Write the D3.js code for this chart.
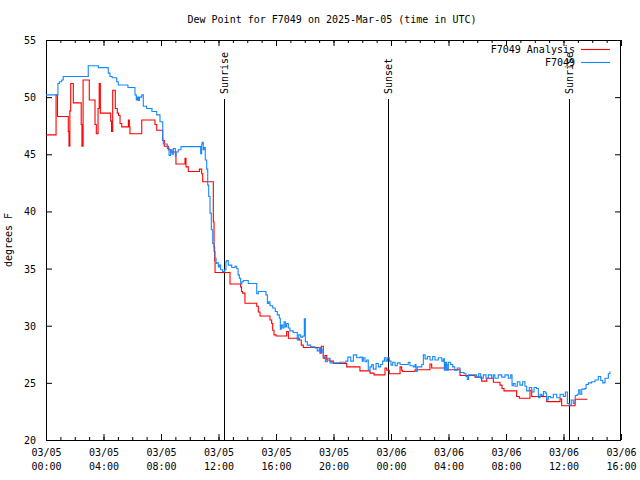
<!DOCTYPE html>
<html><head><meta charset="utf-8">
<script src="https://cdn.jsdelivr.net/npm/d3@7"></script>
<style>
body{margin:0;background:#fff}
svg{display:block}
text{font-family:"DejaVu Sans Mono",monospace;font-size:10px;fill:#000}
</style>
</head><body>
<svg id="chart" width="640" height="480"></svg>
<script>
const title = "Dew Point for F7049 on 2025-Mar-05 (time in UTC)";
const yAxisLabel = "degrees F";
const startTime = "2025-03-05T00:00:00Z";
const endTime = "2025-03-06T16:00:00Z";
const yTicks = [20, 25, 30, 35, 40, 45, 50, 55];
const seriesNames = ["F7049 Analysis", "F7049"];

// hours since 2025-03-05 00:00 UTC
const analysisHours = [0.00,0.70,0.80,1.55,1.60,1.66,1.72,1.90,2.45,2.50,2.58,3.01,3.41,3.50,3.62,3.70,3.78,4.50,4.56,4.64,4.82,4.96,5.05,5.15,5.27,5.73,5.80,5.84,6.66,7.58,7.70,8.12,8.23,8.51,8.67,9.04,9.67,9.74,9.90,10.67,10.83,10.90,11.64,11.69,11.73,11.76,12.80,13.54,13.60,13.68,13.84,14.66,14.77,14.89,15.58,15.70,15.77,15.86,16.00,16.74,16.86,17.62,17.76,17.90,19.06,19.15,19.29,19.41,19.53,19.76,19.99,20.92,21.84,22.54,22.82,23.58,23.70,23.88,24.63,24.74,24.81,25.67,26.71,26.83,27.76,27.90,28.80,29.84,30.31,30.66,31.12,31.58,31.72,31.86,32.74,32.93,33.67,33.79,34.83,35.76,35.87,36.80,37.66];
const analysisValues = [46.7,50.2,48.3,47.0,45.7,48.8,51.2,49.5,47.6,45.7,51.5,49.75,47.6,46.8,49.0,51.2,48.6,47.9,47.0,50.6,49.0,48.6,48.4,47.7,47.4,48.0,47.4,46.8,48.0,47.6,47.1,46.2,45.7,45.4,45.2,44.15,44.65,43.9,43.5,43.7,43.3,42.6,39.1,36.9,35.7,34.65,33.65,33.4,33.0,32.85,31.96,31.7,31.2,30.85,30.5,30.2,29.6,29.2,29.1,29.5,28.9,28.75,28.3,28.1,27.6,28.2,27.15,27.4,27.0,26.9,26.7,26.4,26.05,25.85,25.7,26.3,26.1,25.8,26.4,26.1,26.0,26.15,26.65,26.3,26.6,26.15,25.65,25.5,25.15,25.4,25.05,24.8,24.5,24.3,23.8,23.65,24.35,23.8,23.36,23.6,23.0,23.56,23.56];

const stationHours = [0.00,0.79,0.83,0.93,1.09,1.20,2.83,2.94,3.57,3.64,4.22,4.33,4.45,4.60,4.92,5.03,5.61,5.70,6.12,6.19,6.28,6.35,6.42,6.50,6.66,6.77,7.00,7.37,7.70,7.93,8.12,8.16,8.44,8.56,8.67,8.77,8.86,9.00,9.04,9.20,9.39,10.71,10.76,10.83,10.87,10.94,11.01,11.08,11.18,11.25,11.32,11.41,11.50,11.60,11.69,11.76,11.83,11.87,11.99,12.06,12.15,12.29,12.43,12.52,12.57,12.68,12.92,13.15,13.27,13.36,13.45,13.54,13.63,13.73,13.96,14.07,14.61,14.66,14.77,15.23,15.30,15.40,15.49,15.58,15.77,15.95,16.09,16.23,16.30,16.37,16.47,16.56,16.65,16.74,16.86,16.97,17.20,17.39,17.48,17.58,17.72,17.86,17.97,18.04,18.18,18.41,18.71,18.87,19.01,19.11,19.20,19.29,19.43,19.57,19.76,20.45,20.87,21.00,21.20,21.38,21.62,21.84,22.00,22.07,22.19,22.31,22.42,22.54,22.66,22.77,22.96,23.12,23.28,23.42,23.54,23.65,23.75,23.88,24.00,24.12,24.28,24.44,24.63,24.86,25.20,25.32,25.55,25.67,25.74,25.83,25.97,26.14,26.25,26.37,26.53,26.71,26.90,27.06,27.29,27.53,27.64,27.71,27.78,27.87,27.99,28.15,28.29,28.43,28.61,28.80,29.08,29.22,29.31,29.40,29.73,29.96,30.10,30.24,30.42,30.61,30.77,31.00,31.12,31.23,31.46,31.70,31.93,32.16,32.33,32.42,32.51,32.63,32.79,32.97,33.16,33.32,33.44,33.62,33.79,33.95,34.13,34.25,34.37,34.48,34.60,34.73,34.83,34.94,35.11,35.29,35.53,35.76,35.99,36.13,36.27,36.40,36.54,36.68,36.82,36.96,37.06,37.15,37.27,37.50,37.57,37.73,37.96,38.19,38.42,38.59,38.73,38.89,39.12,39.23];
const stationValues = [50.2,50.2,51.2,51.35,51.5,51.8,51.8,52.75,52.75,52.58,52.58,52.1,51.8,51.7,51.35,51.06,51.06,50.85,50.85,50.2,49.75,50.0,49.7,50.0,50.2,49.2,49.0,48.75,48.45,47.85,46.25,45.9,45.5,44.9,45.4,45.0,45.5,44.8,45.2,45.4,45.67,45.67,45.05,45.9,46.05,45.4,45.6,44.5,43.7,42.3,41.3,39.85,38.4,37.2,36.5,35.9,35.45,35.5,35.15,35.3,34.9,34.75,34.9,35.6,35.7,35.3,35.1,35.2,35.0,34.45,34.15,33.65,33.85,33.95,33.95,33.7,33.7,32.8,33.0,33.0,32.7,31.95,32.1,31.75,31.55,31.25,30.95,30.65,29.7,30.05,29.8,30.35,29.9,30.2,29.8,29.55,29.4,29.4,28.75,29.2,29.0,29.1,30.6,28.6,28.3,28.15,28.05,27.8,28.1,27.65,27.9,27.25,26.85,27.15,26.75,26.8,26.9,27.25,26.9,27.45,27.2,27.25,26.9,27.2,26.85,27.0,26.1,26.4,26.6,26.2,26.7,26.4,26.6,26.9,27.2,26.9,27.2,26.9,26.55,26.8,26.5,26.75,26.6,26.6,26.8,26.5,26.4,26.6,26.0,26.4,26.4,26.6,27.45,27.1,27.3,27.0,27.3,27.0,27.2,26.9,27.1,26.1,26.8,26.1,26.8,26.6,26.4,26.1,26.3,25.9,25.8,25.55,25.3,25.7,25.7,25.5,25.8,25.4,25.7,25.4,25.7,25.4,25.7,25.4,25.7,25.5,25.7,25.4,25.7,24.75,24.95,24.7,25.1,24.8,25.1,24.7,24.3,24.6,24.2,24.6,24.5,23.7,24.0,23.9,24.25,24.1,23.5,23.8,23.7,24.0,23.7,24.0,23.8,24.2,23.2,23.05,23.5,23.2,23.9,24.0,24.4,24.0,24.45,24.5,24.85,25.0,25.1,25.25,25.55,25.2,25.0,25.4,25.8,26.0];

const eventNames = ["Sunrise", "Sunset", "Sunrise"];
const eventHours = [12.40, 23.81, 36.40];

const colors = ["#ff0000", "#1488ff"];
const W = 640, H = 480;
const margin = {left: 46, right: 19, top: 40, bottom: 40};
const svg = d3.select("#chart");
const t0 = new Date(startTime), t1 = new Date(endTime);
const toDate = h => new Date(t0.getTime() + h * 3600000);

const x = d3.scaleUtc().domain([t0, t1]).range([margin.left, W - margin.right]);
const y = d3.scaleLinear().domain([20, 55]).range([H - margin.bottom, margin.top]);

svg.append("rect").attr("width", W).attr("height", H).attr("fill", "#fff");

// title
svg.append("text").attr("x", 332).attr("y", 23).attr("text-anchor", "middle").text(title);
// y label
svg.append("text").attr("transform", "translate(12,240) rotate(-90)").attr("text-anchor", "middle").text(yAxisLabel);

const majorTicks = d3.utcHour.every(4).range(t0, new Date(t1.getTime() + 1));
const minorTicks = d3.utcHour.every(1).range(t0, new Date(t1.getTime() + 1));
const fmtD = d3.utcFormat("%m/%d"), fmtT = d3.utcFormat("%H:%M");

// bottom axis
const gx = svg.append("g").attr("transform", `translate(0,${H - margin.bottom})`)
  .call(d3.axisBottom(x).tickValues(majorTicks).tickSize(-6).tickPadding(9).tickFormat(""));
gx.select(".domain").remove();
gx.selectAll(".tick line").attr("stroke", "#000");
gx.selectAll(".tick text").each(function(d) {
  const t = d3.select(this);
  t.append("tspan").attr("x", 0).attr("dy", "0.71em").text(fmtD(d));
  t.append("tspan").attr("x", 0).attr("dy", "1.35em").text(fmtT(d));
});
gx.selectAll("text").attr("font-family", "DejaVu Sans Mono").attr("font-size", 10);

// minor bottom ticks
svg.append("g").attr("transform", `translate(0,${H - margin.bottom})`)
  .call(d3.axisBottom(x).tickValues(minorTicks).tickSize(-3).tickFormat(""))
  .call(g => g.select(".domain").remove());
// top mirrored ticks
svg.append("g").attr("transform", `translate(0,${margin.top})`)
  .call(d3.axisTop(x).tickValues(majorTicks).tickSize(-6).tickFormat(""))
  .call(g => g.select(".domain").remove());
svg.append("g").attr("transform", `translate(0,${margin.top})`)
  .call(d3.axisTop(x).tickValues(minorTicks).tickSize(-3).tickFormat(""))
  .call(g => g.select(".domain").remove());

// left axis
const gy = svg.append("g").attr("transform", `translate(${margin.left},0)`)
  .call(d3.axisLeft(y).tickValues(yTicks).tickSize(-6).tickPadding(10).tickFormat(d3.format("d")));
gy.select(".domain").remove();
gy.selectAll("text").attr("font-family", "DejaVu Sans Mono").attr("font-size", 10).attr("dy", "0.35em");
// right mirrored
svg.append("g").attr("transform", `translate(${W - margin.right},0)`)
  .call(d3.axisRight(y).tickValues(yTicks).tickSize(-6).tickFormat(""))
  .call(g => g.select(".domain").remove());

// frame
svg.append("rect").attr("x", margin.left + 0.5).attr("y", margin.top + 0.5)
  .attr("width", W - margin.left - margin.right - 1).attr("height", H - margin.top - margin.bottom)
  .attr("fill", "none").attr("stroke", "#000").attr("stroke-width", 1);

// event lines
eventHours.forEach((h, i) => {
  const xx = Math.round(x(toDate(h))) + 0.5;
  svg.append("line").attr("x1", xx).attr("x2", xx).attr("y1", 99).attr("y2", H - margin.bottom)
    .attr("stroke", "#000").attr("stroke-width", 1);
  svg.append("text").attr("transform", `translate(${xx + 3.5},94) rotate(-90)`)
    .attr("text-anchor", "start").text(eventNames[i]);
});

// series
const analysis = analysisHours.map((h, i) => [toDate(h), analysisValues[i]]);
const station = stationHours.map((h, i) => [toDate(h), stationValues[i]]);

svg.append("path").datum(analysis)
  .attr("fill", "none").attr("stroke", colors[0]).attr("stroke-width", 1.1)
  .attr("d", d3.line().x(d => x(d[0])).y(d => y(d[1])).curve(d3.curveStepAfter));
svg.append("path").datum(station)
  .attr("fill", "none").attr("stroke", colors[1]).attr("stroke-width", 1.1)
  .attr("d", d3.line().x(d => x(d[0])).y(d => y(d[1])).curve(d3.curveStepAfter));

// legend
seriesNames.forEach((n, i) => {
  const ly = 49 + i * 13;
  svg.append("text").attr("x", 575).attr("y", ly).attr("dy", "0.35em").attr("text-anchor", "end").text(n);
  svg.append("line").attr("x1", 581).attr("x2", 610).attr("y1", ly + 0.5).attr("y2", ly + 0.5)
    .attr("stroke", colors[i]).attr("stroke-width", 1.1);
});
</script>
</body></html>
